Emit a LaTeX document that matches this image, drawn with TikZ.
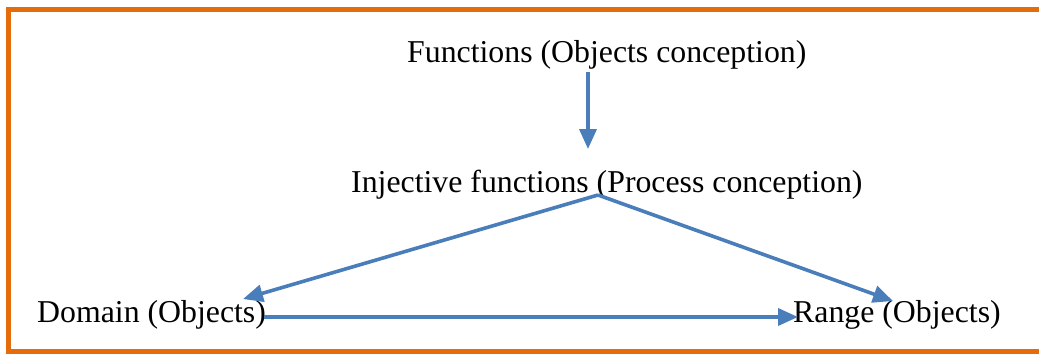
\documentclass[tikz,border=0pt]{standalone}
\usepackage{fontspec}
\setmainfont{Liberation Serif}
\usetikzlibrary{arrows.meta}
\definecolor{frameorange}{RGB}{228,108,10}
\definecolor{arrowblue}{RGB}{74,126,187}
\begin{document}
\begin{tikzpicture}[x=1pt,y=-1pt,
  lbl/.style={inner sep=0pt, anchor=base west, font=\fontsize{31.8}{36}\selectfont},
  conn/.style={draw=arrowblue, line width=3.6pt, -{Triangle[length=20pt,width=17pt]}}]
\useasboundingbox (0,0) rectangle (1039,354);
\begin{scope}
\clip (0,0) rectangle (1039,354);
\draw[frameorange, line width=5pt] (8.5,9.5) rectangle (1045,351.5);
\end{scope}
\node[lbl] (f) at (407,62) {Functions (Objects conception)};
\node[lbl] (inj) at (351,192) {Injective functions (Process conception)};
\node[lbl] (dom) at (37,322) {Domain (Objects)};
\node[lbl] (rng) at (793,322) {Range (Objects)};
\coordinate (fout) at (588,72);
\coordinate (injin) at (588,149);
\coordinate (apex) at (598,195);
\coordinate (domin) at (243,299);
\coordinate (domout) at (264,317);
\coordinate (rngin) at (893,301);
\coordinate (rngleft) at (798,317);
\draw[conn] (fout) -- (injin);
\draw[conn] (apex) -- (domin);
\draw[conn] (apex) -- (rngin);
\draw[conn] (domout) -- (rngleft);
\end{tikzpicture}
\end{document}
